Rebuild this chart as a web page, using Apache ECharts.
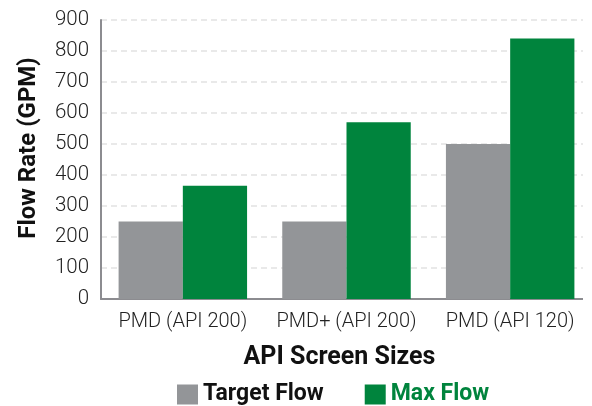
<!DOCTYPE html>
<html><head><meta charset="utf-8">
<script src="https://cdn.jsdelivr.net/npm/echarts@6/dist/echarts.min.js"></script>
<style>html,body{margin:0;padding:0;background:#fff}#c{width:592px;height:406px}</style>
</head><body><div id="c"></div>
<script>
const categories = ['PMD (API 200)', 'PMD+ (API 200)', 'PMD (API 120)'];
const targetFlow = [250, 250, 500];
const maxFlow = [365, 570, 840];
const yTicks = [0, 900, 100];

const chart = echarts.init(document.getElementById('c'), null, {renderer: 'canvas'});
const F = 'Roboto, "Noto Sans", sans-serif';
chart.setOption({
  animation: false,
  textStyle: {fontFamily: F},
  grid: {left: 101, top: 20, width: 501, height: 279, containLabel: false},
  legend: {
    left: 177, top: 383, padding: 0, itemWidth: 21, itemHeight: 20, itemGap: 41, icon: 'rect',
    textStyle: {fontFamily: F, fontSize: 23, fontWeight: 'bold', color: '#111'},
    data: [
      {name: 'Target Flow'},
      {name: 'Max Flow', textStyle: {color: '#00843D'}}
    ]
  },
  xAxis: {
    type: 'category', data: categories,
    axisLine: {lineStyle: {color: '#8c8c90', width: 2}},
    axisTick: {show: false},
    axisLabel: {fontFamily: F, fontSize: 20, fontWeight: 300, color: '#222', margin: 13, interval: 0},
    name: 'API Screen Sizes', nameLocation: 'middle', nameGap: 46,
    nameTextStyle: {fontFamily: F, fontSize: 25, fontWeight: 'bold', color: '#111', padding: [0, 0, 0, -14]}
  },
  yAxis: {
    type: 'value', min: yTicks[0], max: yTicks[1], interval: yTicks[2],
    axisLine: {show: true, lineStyle: {color: '#8c8c90', width: 2}},
    axisTick: {show: false},
    axisLabel: {fontFamily: F, fontSize: 20.5, fontWeight: 300, color: '#222', margin: 12},
    splitLine: {lineStyle: {color: '#e2e2e2', type: [6, 4], width: 1.5}}
  },
  graphic: [
    {type: 'rect', left: 583, top: 0, shape: {width: 20, height: 320}, style: {fill: '#fff'}, z: 100},
    {type: 'text', x: 29, y: 148, rotation: Math.PI / 2,
     style: {text: 'Flow Rate (GPM)', font: 'bold 24px ' + F, fill: '#111', align: 'center', verticalAlign: 'middle'}}
  ],
  series: [
    {name: 'Target Flow', type: 'bar', data: targetFlow, barGap: '0%', barCategoryGap: '21.5%',
     itemStyle: {color: '#939598'}},
    {name: 'Max Flow', type: 'bar', data: maxFlow, barGap: '0%', barCategoryGap: '21.5%',
     itemStyle: {color: '#00843D'}}
  ]
});
</script></body></html>
